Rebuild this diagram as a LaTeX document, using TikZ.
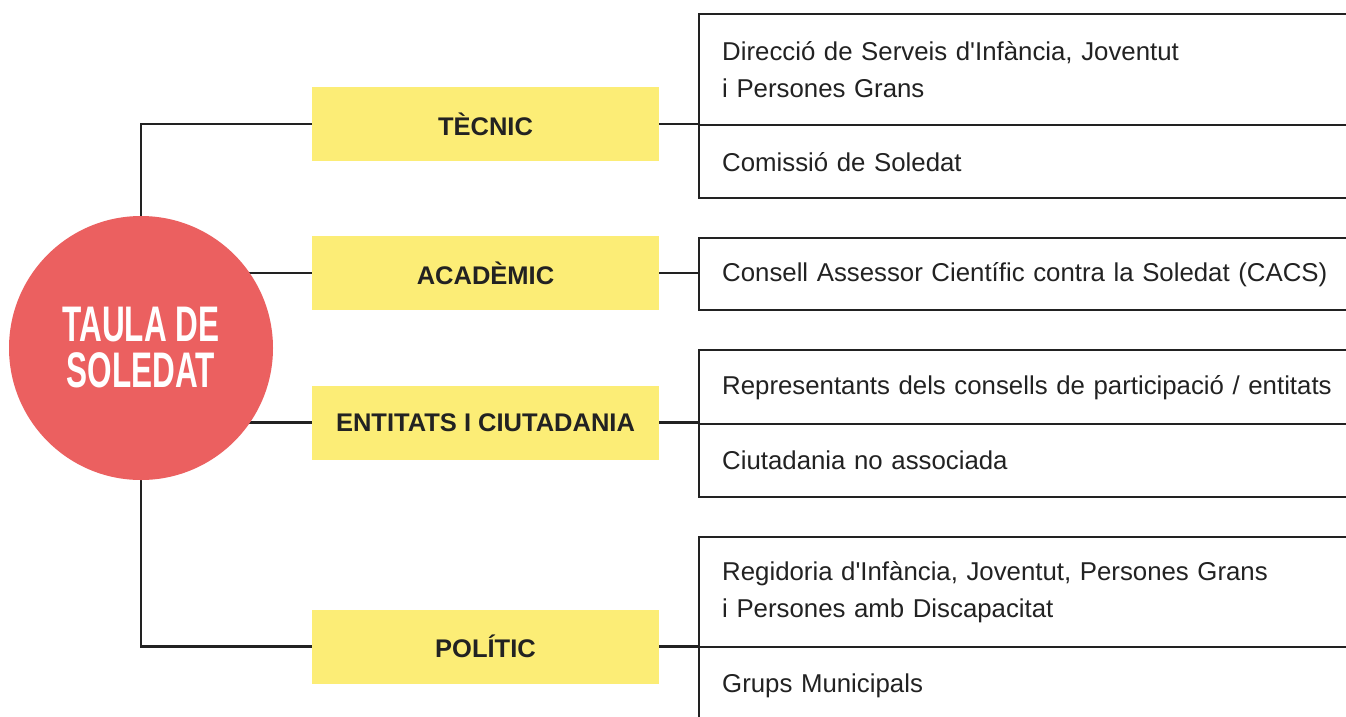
\documentclass[tikz,border=0pt]{standalone}
\usepackage{fontspec}
\setmainfont{Liberation Sans}
\usepackage{graphicx}
\definecolor{ink}{HTML}{222222}
\definecolor{circred}{HTML}{EB6060}
\definecolor{labyellow}{HTML}{FCED76}
\pgfdeclarelayer{bg}
\pgfdeclarelayer{lines}
\pgfsetlayers{bg,lines,main}
\newcommand{\apos}{\textquotesingle}
\tikzset{
  grp/.style={fill=labyellow, minimum width=347pt, minimum height=74pt, inner sep=0pt,
    text=ink, font=\fontsize{25.5}{28}\selectfont\bfseries},
  cell/.style={draw=ink, line width=2.4pt, anchor=north west, minimum width=700pt,
    text width=654pt, inner xsep=23pt, inner ysep=0pt, align=left, text=ink,
    font=\fontsize{25.8}{37}\selectfont},
  conn/.style={draw=ink, line width=2.4pt},
}
\begin{document}
\begin{tikzpicture}[x=1pt,y=-1pt]
\clip (0,0) rectangle (1346,716);
\begin{pgfonlayer}{bg}
\fill[white] (0,0) rectangle (1346,716);
\end{pgfonlayer}
% central circle
\node[circle, fill=circred, minimum size=264pt, inner sep=0pt] (circ) at (141,348) {};
\node[text=white, align=center, inner sep=0pt, font=\fontsize{50}{46}\selectfont\bfseries] (circtxt) at (141,348)
  {\scalebox{0.63}[1]{TAULA DE}\\\scalebox{0.63}[1]{SOLEDAT}};
% group labels
\node[grp] (tec) at (485.5,124) {TÈCNIC};
\node[grp] (aca) at (485.5,273) {ACADÈMIC};
\node[grp] (ent) at (485.5,422.5) {ENTITATS I CIUTADANIA};
\node[grp] (pol) at (485.5,646.5) {POLÍTIC};
% member cells
\node[cell, minimum height=111pt] (d1) at (698,13) {Direcció de Serveis d\apos Infància, Joventut\\i Persones Grans};
\node[cell, minimum height=73pt] (d2) at (698,124) {Comissió de Soledat};
\node[cell, minimum height=72pt] (cacs) at (698,237) {Consell Assessor Científic contra la Soledat (CACS)};
\node[cell, minimum height=74pt] (e1) at (698,349) {Representants dels consells de participació / entitats};
\node[cell, minimum height=73pt] (e2) at (698,423) {Ciutadania no associada};
\node[cell, minimum height=110pt] (p1) at (698,536) {Regidoria d\apos Infància, Joventut, Persones Grans\\i Persones amb Discapacitat};
\node[cell, minimum height=78pt] (p2) at (698,646) {Grups Municipals};
% connectors
\begin{pgfonlayer}{lines}
\draw[conn] (tec.west) -| (circ.center);
\draw[conn] (pol.west) -| (circ.center);
\draw[conn] (aca.west) -- (aca.west -| circ.center);
\draw[conn] (ent.west) -- (ent.west -| circ.center);
\end{pgfonlayer}
\draw[conn] (tec.east) -- (tec.east -| d1.west);
\draw[conn] (aca.east) -- (aca.east -| cacs.west);
\draw[conn] (ent.east) -- (ent.east -| e1.west);
\draw[conn] (pol.east) -- (pol.east -| p1.west);
\end{tikzpicture}
\end{document}
